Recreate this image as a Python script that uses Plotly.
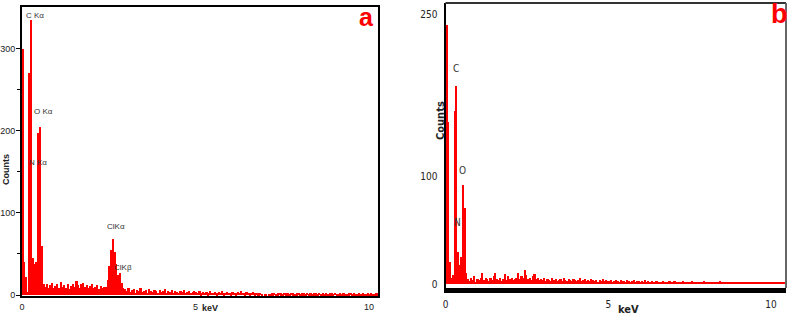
import plotly.graph_objects as go

# ---------------- data ----------------
channel_width_kev = 0.05

# Panel a: counts per 0.05 keV channel, starting at 0 keV
counts_a = (
    [300, 40, 22, 4, 270, 335, 45, 38, 40, 197, 205, 60, 14]
    + [10, 13, 8, 12, 15, 9, 11, 14, 8, 16, 10, 12, 9, 13, 7, 11, 14, 10, 17, 12,
       9, 13, 15, 10, 12, 8, 11, 13, 9, 10, 12, 7, 11, 8, 10]
    + [10, 18, 35, 55, 68, 52, 38, 24, 27, 15, 9]
    + [7, 5, 8, 4, 6, 7, 3, 6, 5, 8, 4, 5, 6, 3, 7, 5, 4, 6, 5, 3,
       6, 4, 5, 7, 3, 5, 4, 6, 3, 5, 4, 3, 5, 4, 6, 3, 4, 5, 3, 4, 5]
    + [4, 3, 5, 2, 4, 3, 4, 2, 5, 3, 3, 4, 2, 4, 3, 5, 2, 3, 4, 3,
       2, 4, 3, 2, 4, 3, 5, 3, 2, 4, 3, 2, 3, 4, 2, 3, 2, 3]
    + [1, 0, 1, 0, 1, 1]
    + [2, 3, 1, 2, 3, 2, 1, 3, 2, 2, 1, 3, 2, 1, 2, 3, 1, 2, 2, 1,
       3, 1, 2, 1, 2, 2, 1, 3, 1, 2, 1, 2, 1, 2, 2, 1, 3, 1, 1, 2,
       1, 2, 1, 1, 2, 3, 1, 2, 1, 1, 2, 1, 2, 1, 1, 2, 1, 2, 1, 1, 2]
)

# Panel b: counts per 0.05 keV channel, starting at 0 keV
counts_b = (
    [240, 150, 20, 6, 8, 160, 183, 30, 18, 25, 92, 70, 10]
    + [5, 3, 6, 4, 7, 2, 5, 4, 6, 10, 4, 6, 5, 3, 6, 4, 7, 10, 5, 4,
       6, 3, 5, 9, 4, 7, 5, 6, 4, 5, 6, 10, 5, 7, 6, 13, 8, 5, 6, 4,
       7, 9, 5, 6, 4]
    + [5, 4, 6, 3, 5, 4, 3, 6, 4, 5, 3, 4, 5, 3, 6, 4, 3, 5, 4, 3,
       5, 4, 3, 4, 6, 3, 4, 5, 3, 4, 3, 5, 4, 3, 4, 2, 4, 3, 5, 3, 4, 3]
    + [3, 4, 2, 3, 4, 3, 2, 4, 3, 3, 2, 4, 3, 2, 3, 4, 2, 3, 3, 2,
       3, 2, 4, 2, 3, 2, 3, 2, 2, 3, 2, 1, 2, 3, 2, 2, 1, 3, 2, 2,
       3, 2, 2, 1, 2, 3, 2, 2, 1, 2, 2, 3, 1, 2, 2, 1, 2, 2, 3, 1,
       2, 2, 1, 2, 1, 2, 2, 1, 3, 2, 1, 2, 2, 1, 2, 1, 2, 2, 1, 2,
       1, 2, 1, 2, 2, 1, 2, 1, 2, 1, 2, 1, 1, 2, 1, 2, 1, 1, 2, 1,
       1, 2, 1, 1, 2, 1, 1, 2, 1, 1]
)

x_ticks = [0, 5, 10]
y_ticks_a = [0, 100, 200, 300]
y_ticks_b = [0, 100, 250]

labels_a = ["C K\u03b1", "O K\u03b1", "N K\u03b1", "ClK\u03b1", "ClK\u03b2"]
labels_a_x = [0.07, 0.30, 0.15, 2.40, 2.60]
labels_a_y = [341, 224, 162, 83, 33]

labels_b = ["C", "O", "N"]
labels_b_x = [0.31, 0.52, 0.37]
labels_b_y = [200, 105, 57]

energy_a = [i * channel_width_kev for i in range(len(counts_a))]
energy_b = [i * channel_width_kev for i in range(len(counts_b))]

W, H = 789, 316
RED = "#ff0000"

fig = go.Figure()
fig.add_trace(go.Bar(x=energy_a, y=counts_a, width=channel_width_kev, offset=0,
                     marker=dict(color=RED, line=dict(width=0)),
                     xaxis="x", yaxis="y"))
fig.add_trace(go.Bar(x=energy_b, y=counts_b, width=channel_width_kev, offset=0,
                     marker=dict(color=RED, line=dict(width=0)),
                     xaxis="x2", yaxis="y2"))

tick_font_a = dict(family="Arial, Liberation Sans", size=9, color="#222")
tick_font_b = dict(family="Liberation Sans Narrow, Arial Narrow, DejaVu Sans Condensed",
                   size=10, color="#222")

fig.update_layout(
    width=W, height=H,
    margin=dict(l=0, r=0, t=0, b=0),
    paper_bgcolor="white", plot_bgcolor="white",
    showlegend=False, bargap=0,
    xaxis=dict(domain=[22 / W, 378 / W], range=[0, 10.26], anchor="y",
               tickvals=x_ticks, ticks="", showgrid=False, zeroline=False,
               showline=True, linecolor="black", linewidth=2, mirror=True,
               tickfont=tick_font_a, automargin=False, ticklabelstandoff=1),
    yaxis=dict(domain=[1 - 296 / H, 1 - 7 / H], range=[-1.2, 351], anchor="x",
               tickvals=y_ticks_a, ticks="outside", ticklen=4, tickwidth=1,
               tickcolor="black",
               minor=dict(tickvals=[50, 150, 250], ticks="outside", ticklen=3,
                          tickcolor="black"),
               showgrid=False, zeroline=False,
               showline=True, linecolor="black", linewidth=2, mirror=True,
               tickfont=tick_font_a, automargin=False, ticklabelstandoff=-1),
    xaxis2=dict(domain=[445.5 / W, 786 / W], range=[0, 10.46], anchor="y2",
                tickvals=x_ticks, ticks="", showgrid=False, zeroline=False,
                showline=True, linecolor="black", linewidth=5,
                tickfont=tick_font_b, automargin=False, ticklabelstandoff=3),
    yaxis2=dict(domain=[1 - 288 / H, 1 - 3 / H], range=[-3.7, 260.2], anchor="x2",
                tickvals=y_ticks_b, ticks="", showgrid=False, zeroline=False,
                showline=True, linecolor="black", linewidth=2,
                tickfont=tick_font_b, automargin=False, ticklabelstandoff=4),
)

shapes = [
    # top border and right border of panel b
    dict(type="line", xref="x2 domain", yref="y2 domain", x0=0, x1=1, y0=1, y1=1,
         line=dict(color="#333", width=2)),
    dict(type="line", xref="x2 domain", yref="y2 domain", x0=1, x1=1, y0=0, y1=1,
         line=dict(color="#666", width=2)),
]
fig.update_layout(shapes=shapes)

ann = []
lab_font = dict(family="Arial, Liberation Sans", size=8, color="#333")
for t, x, y in zip(labels_a, labels_a_x, labels_a_y):
    ann.append(dict(text=t, x=x, y=y, xref="x", yref="y", showarrow=False,
                    xanchor="left", yanchor="middle", font=lab_font))
lab_font_b = dict(family="Liberation Sans Narrow, Arial Narrow, DejaVu Sans Condensed",
                  size=10, color="#333")
for t, x, y in zip(labels_b, labels_b_x, labels_b_y):
    ann.append(dict(text=t, x=x, y=y, xref="x2", yref="y2", showarrow=False,
                    xanchor="center", yanchor="middle", font=lab_font_b))

axis_title_a = dict(family="Arial, Liberation Sans", size=9, color="#222")
axis_title_b = dict(family="Liberation Sans Narrow, Arial Narrow, DejaVu Sans Condensed",
                    size=11, color="#222")
ann += [
    dict(text="<b>Counts</b>", x=6 / W, y=1 - 170 / H, xref="paper", yref="paper",
         showarrow=False, textangle=-90, xanchor="center", yanchor="middle",
         font=axis_title_a),
    dict(text="<b>keV</b>", x=210 / W, y=1 - 308 / H, xref="paper", yref="paper",
         showarrow=False, xanchor="center", yanchor="middle", font=axis_title_a),
    dict(text="<b>Counts</b>", x=440 / W, y=1 - 120 / H, xref="paper", yref="paper",
         showarrow=False, textangle=-90, xanchor="center", yanchor="middle",
         font=axis_title_b),
    dict(text="<b>keV</b>", x=628 / W, y=1 - 309 / H, xref="paper", yref="paper",
         showarrow=False, xanchor="center", yanchor="middle", font=axis_title_b),
    dict(text="<b>a</b>", x=366 / W, y=1 - 17 / H, xref="paper", yref="paper",
         showarrow=False, xanchor="center", yanchor="middle",
         font=dict(family="Arial, Liberation Sans", size=25, color=RED)),
    dict(text="<b>b</b>", x=779 / W, y=1 - 14 / H, xref="paper", yref="paper",
         showarrow=False, xanchor="center", yanchor="middle",
         font=dict(family="Arial, Liberation Sans", size=27, color=RED)),
]
fig.update_layout(annotations=ann)

fig.write_html(
    "out.html",
    config={"displayModeBar": False},
    post_script="document.body.style.margin='0';document.body.style.padding='0';"
                "document.body.style.overflow='hidden';",
)
